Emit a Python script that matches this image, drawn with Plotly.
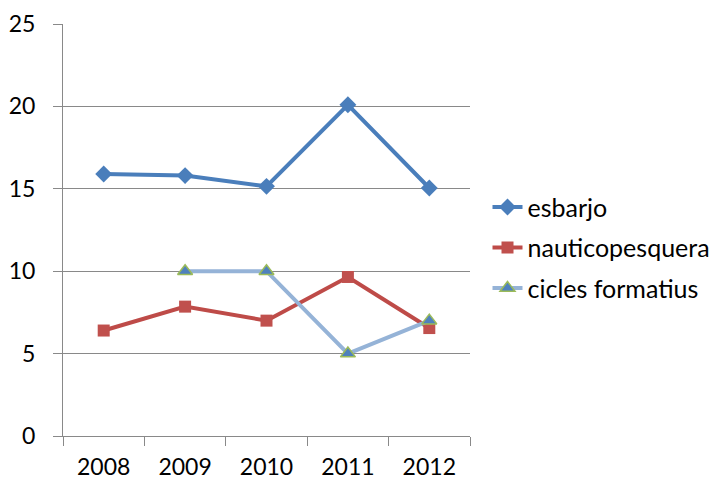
import plotly.graph_objects as go

years = ["2008", "2009", "2010", "2011", "2012"]
esbarjo = [15.9, 15.8, 15.15, 20.1, 15.05]
nauticopesquera = [6.4, 7.85, 7.0, 9.65, 6.55]
cicles_years = ["2009", "2010", "2011", "2012"]
cicles_formatius = [10, 10, 5, 7]
y_ticks = [0, 5, 10, 15, 20, 25]

FONT = "Lato"
GRID = "#898989"

fig = go.Figure()
fig.add_trace(go.Scatter(
    x=years, y=esbarjo, name="esbarjo", mode="lines+markers",
    line=dict(color="#4A7EBB", width=4),
    marker=dict(symbol="diamond", size=13, color="#4A7EBB"),
    legendgroup="a",
))
fig.add_trace(go.Scatter(
    x=years, y=nauticopesquera, name="nauticopesquera", mode="lines+markers",
    line=dict(color="#BE4B48", width=4),
    marker=dict(symbol="square", size=12, color="#C0504D"),
    legendgroup="b",
))
fig.add_trace(go.Scatter(
    x=cicles_years, y=cicles_formatius, name="cicles formatius", mode="lines+markers",
    line=dict(color="#95B3D7", width=4),
    marker=dict(symbol="triangle-up", size=13, color="#4F81BD",
                line=dict(color="#9BBB59", width=1.5)),
    legendgroup="c",
))

fig.update_layout(
    width=715, height=484,
    margin=dict(l=63, r=245, t=24, b=48, autoexpand=False),
    paper_bgcolor="white", plot_bgcolor="white",
    font=dict(family=FONT, size=23, color="black"),
    showlegend=True,
    legend=dict(x=1.043, y=0.457, xanchor="left", yanchor="middle",
                font=dict(family=FONT, size=25), tracegroupgap=5,
                bgcolor="rgba(0,0,0,0)"),
    xaxis=dict(
        type="category", categoryorder="array", categoryarray=years,
        range=[-0.5, 4.5], showgrid=False, showline=True, linecolor=GRID,
        linewidth=1, ticks="outside", tickson="boundaries", ticklen=9,
        tickcolor=GRID, tickfont=dict(family=FONT, size=23), zeroline=False,
        ticklabelstandoff=10, automargin=False,
    ),
    yaxis=dict(
        range=[0, 25], tickvals=y_ticks, showgrid=True, gridcolor=GRID,
        gridwidth=1, showline=True, linecolor=GRID, linewidth=1,
        ticks="outside", ticklen=9, tickcolor=GRID, zeroline=False,
        tickfont=dict(family=FONT, size=23), ticklabelstandoff=13,
        automargin=False,
    ),
)

fig.write_html("out.html")
